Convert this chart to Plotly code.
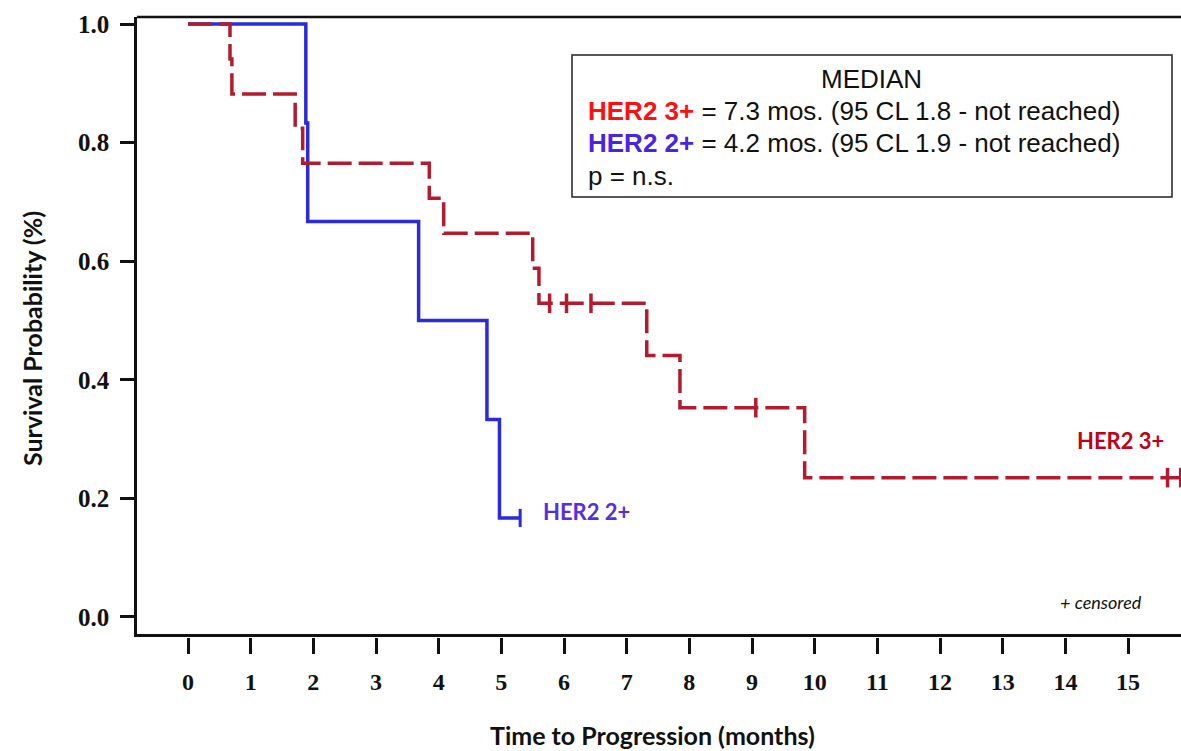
import plotly.graph_objects as go

# ---------------- data ----------------
her2_3_times = [0, 0.67, 0.70, 1.71, 1.83, 3.85, 4.08, 5.50, 5.60, 7.32, 7.85, 9.84, 16.0]
her2_3_surv = [1.0, 0.941, 0.882, 0.824, 0.765, 0.706, 0.647, 0.588, 0.529, 0.441, 0.353, 0.235, 0.235]
her2_3_cens_t = [5.77, 6.04, 6.43, 9.06, 15.63, 15.84]
her2_3_cens_s = [0.529, 0.529, 0.529, 0.353, 0.235, 0.235]

her2_2_times = [0, 1.88, 1.91, 3.68, 4.77, 4.97, 5.30]
her2_2_surv = [1.0, 0.833, 0.667, 0.5, 0.333, 0.167, 0.167]
her2_2_cens_t = [5.30]
her2_2_cens_s = [0.167]

x_ticks = list(range(0, 16))
y_ticks = [0.0, 0.2, 0.4, 0.6, 0.8, 1.0]
y_ticktext = ["0.0", "0.2", "0.4", "0.6", "0.8", "1.0"]

RED = "#B31B2E"
BLUE = "#2B2BDC"

# ---------------- layout helpers (pixel -> paper) ----------------
L, R, T, B = 137, 0, 17, 114
W, H = 1181, 751
PW, PH = W - L - R, H - T - B


def px(X):
    return (X - L) / PW


def py(Y):
    return (H - B - Y) / PH


XR = [-0.814, 15.845]

fig = go.Figure()

# blue curve (below)
fig.add_trace(go.Scatter(x=her2_2_times, y=her2_2_surv, mode="lines", line_shape="hv",
                         line=dict(color=BLUE, width=3.5), xaxis="x", yaxis="y",
                         showlegend=False, hoverinfo="skip"))
fig.add_trace(go.Scatter(x=her2_2_cens_t, y=her2_2_cens_s, mode="markers",
                         marker=dict(symbol="line-ns", size=13, line=dict(color=BLUE, width=3)),
                         xaxis="x", yaxis="y", showlegend=False, hoverinfo="skip"))

# red dashed curve (on top)
fig.add_trace(go.Scatter(x=her2_3_times, y=her2_3_surv, mode="lines", line_shape="hv",
                         line=dict(color=RED, width=3.5, dash="24px,7px"), xaxis="x2", yaxis="y",
                         showlegend=False, hoverinfo="skip"))
fig.add_trace(go.Scatter(x=her2_3_cens_t, y=her2_3_cens_s, mode="markers",
                         marker=dict(symbol="line-ns", size=14, line=dict(color=RED, width=3.5)),
                         xaxis="x2", yaxis="y", showlegend=False, hoverinfo="skip"))

dom_bottom = 3 / PH

fig.update_layout(
    width=W, height=H,
    margin=dict(l=L, r=R, t=T, b=B),
    paper_bgcolor="white", plot_bgcolor="white",
    xaxis=dict(range=XR, showline=True, linecolor="#111", linewidth=2.5, mirror=False,
               ticks="", showticklabels=False, showgrid=False, zeroline=False, anchor="y"),
    xaxis2=dict(range=XR, overlaying="x", anchor="free", position=0, side="bottom",
                showline=False, showgrid=False, zeroline=False,
                ticks="outside", ticklen=16, tickwidth=2.5, tickcolor="#111",
                tickvals=x_ticks, ticktext=[str(v) for v in x_ticks],
                ticklabelstandoff=7,
                tickfont=dict(family="Liberation Serif", size=24, color="#111", weight="bold")),
    yaxis=dict(range=[-0.0287, 1.0118], domain=[dom_bottom, 1], showline=True, linecolor="#111",
               linewidth=2.5, ticks="outside", ticklen=14, tickwidth=2.5, tickcolor="#111",
               tickvals=y_ticks, ticktext=y_ticktext, showgrid=False, zeroline=False,
               ticklabelstandoff=6,
               tickfont=dict(family="Liberation Serif", size=25, color="#111", weight="bold")),
)

# top frame line
fig.add_shape(type="line", xref="paper", yref="paper", x0=0, x1=1, y0=1, y1=1,
              line=dict(color="#111", width=2.5))

# median box
fig.add_shape(type="rect", xref="paper", yref="paper", x0=px(572), x1=px(1172),
              y0=py(197), y1=py(55), line=dict(color="#222", width=1.5), fillcolor="white")

box_font = dict(family="Liberation Sans", size=26, color="#111")
fig.add_annotation(xref="paper", yref="paper", x=px(872), y=py(79), text="MEDIAN",
                   showarrow=False, xanchor="center", yanchor="middle", font=box_font)
fig.add_annotation(xref="paper", yref="paper", x=px(586), y=py(111),
                   text="<span style='color:#FF1010'><b>HER2 3+</b></span> = 7.3 mos. (95 CL 1.8 - not reached)",
                   showarrow=False, xanchor="left", yanchor="middle", font=box_font)
fig.add_annotation(xref="paper", yref="paper", x=px(586), y=py(143),
                   text="<span style='color:#4A24E0'><b>HER2 2+</b></span> = 4.2 mos. (95 CL 1.9 - not reached)",
                   showarrow=False, xanchor="left", yanchor="middle", font=box_font)
fig.add_annotation(xref="paper", yref="paper", x=px(586), y=py(176), text="p = n.s.",
                   showarrow=False, xanchor="left", yanchor="middle", font=box_font)

# curve labels
fig.add_annotation(xref="paper", yref="paper", x=px(541), y=py(511), text="<b>HER2 2+</b>",
                   showarrow=False, xanchor="left", yanchor="middle",
                   font=dict(family="Lato", size=22, color="#5530E0"))
fig.add_annotation(xref="paper", yref="paper", x=px(1075), y=py(440), text="<b>HER2 3+</b>",
                   showarrow=False, xanchor="left", yanchor="middle",
                   font=dict(family="Lato", size=22, color="#C00018"))
fig.add_annotation(xref="paper", yref="paper", x=px(1058), y=py(602), text="<i>+ censored</i>",
                   showarrow=False, xanchor="left", yanchor="middle",
                   font=dict(family="Lato", size=18, color="#111"))

# axis titles
fig.add_annotation(xref="paper", yref="paper", x=px(652), y=py(735),
                   text="<b>Time to Progression (months)</b>", showarrow=False,
                   xanchor="center", yanchor="middle",
                   font=dict(family="Lato", size=25, color="#111"))
fig.add_annotation(xref="paper", yref="paper", x=px(32), y=py(339),
                   text="<b>Survival Probability (%)</b>", showarrow=False, textangle=-90,
                   xanchor="center", yanchor="middle",
                   font=dict(family="Lato", size=25, color="#111"))

fig.write_html("out.html")
